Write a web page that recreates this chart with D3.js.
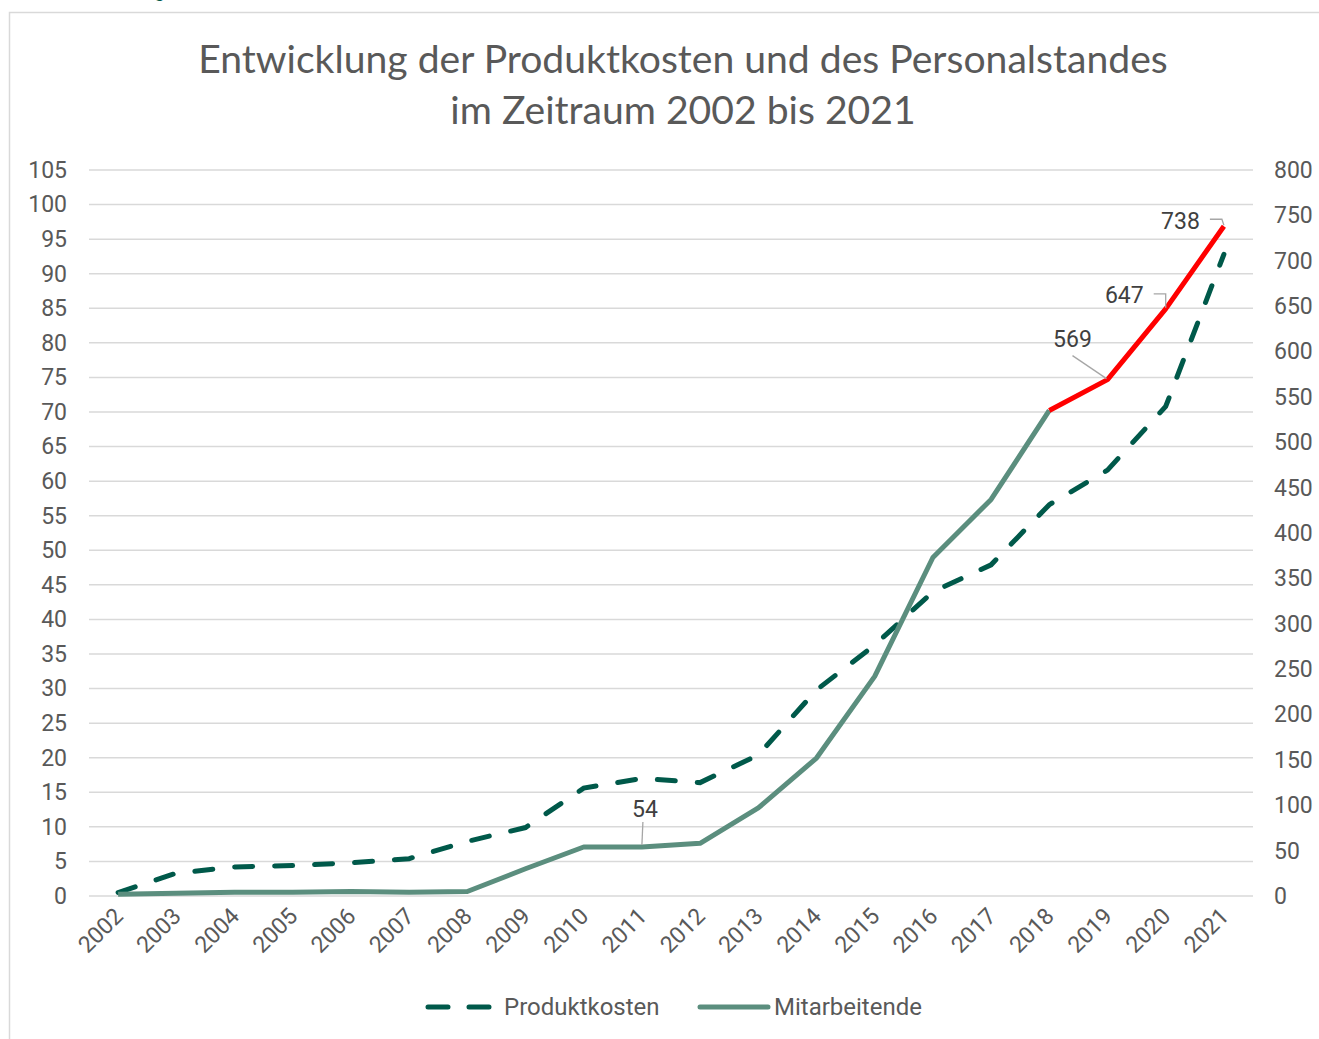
<!DOCTYPE html>
<html>
<head>
<meta charset="utf-8">
<script src="https://cdn.jsdelivr.net/npm/d3@7"></script>
<style>
  body { margin: 0; background: #fff; }
  svg { display: block; }
</style>
</head>
<body>
<svg id="chart" width="1319" height="1039"></svg>
<script>
// data
let years = ["2002","2003","2004","2005","2006","2007","2008","2009","2010","2011",
             "2012","2013","2014","2015","2016","2017","2018","2019","2020","2021"];
let produktkosten = [0.5, 3.3, 4.2, 4.4, 4.8, 5.4, 7.9, 9.9, 15.6, 17.0,
                     16.4, 20.4, 29.8, 36.3, 44.0, 47.9, 56.6, 61.6, 70.8, 92.8];
let mitarbeitende = [2, 3, 4, 4, 5, 4, 5, 30, 54, 54,
                     58, 97, 152, 242, 373, 437, 535, 569, 647, 738];
let leftTicks = d3.range(0, 106, 5);
let rightTicks = d3.range(0, 801, 50);
let labelledYears = ["2011", "2019", "2020", "2021"];
let redFrom = "2018";

let titleLines = ["Entwicklung der Produktkosten und des Personalstandes", "im Zeitraum 2002 bis 2021"];

const darkGreen = "#00594a";
const sage = "#5b8e7e";
const red = "#ff0000";
const textGray = "#595959";

let minx = 89, maxx = 1253, miny = 170, maxy = 896;

let xScale = d3.scalePoint().domain(years).range([minx, maxx]).padding(0.5);
let yLeft = d3.scaleLinear().domain([0, 105]).range([maxy, miny]);
let yRight = d3.scaleLinear().domain([0, 800]).range([maxy, miny]);

let svg = d3.select("#chart");

// clipped text from above the frame (cut off in the original too)
svg.append("text")
  .attr("x", 154).attr("y", -3)
  .attr("font-family", "Roboto").attr("font-size", 20)
  .attr("fill", darkGreen)
  .text("g");

// frame
svg.append("rect")
  .attr("x", 9.5).attr("y", 12.5)
  .attr("width", 1400).attr("height", 1100)
  .attr("fill", "none")
  .attr("stroke", "#d9d9d9")
  .attr("stroke-width", 1.5);

// title
let title = svg.append("g");
let fs = 38;
titleLines.forEach((t, i) => {
  let el = title.append("text")
    .attr("x", 683).attr("y", 73 + i * 51)
    .attr("text-anchor", "middle")
    .attr("font-family", "Lato")
    .attr("font-size", fs)
    .attr("fill", textGray)
    .text(t);
  if (i == 0) {
    let w = el.node().getComputedTextLength();
    fs = 38 * 970 / w;
    el.attr("font-size", fs);
  }
});

// gridlines
svg.append("g")
  .selectAll("line")
  .data(leftTicks)
  .join("line")
  .attr("x1", minx).attr("x2", maxx)
  .attr("y1", d => yLeft(d)).attr("y2", d => yLeft(d))
  .attr("stroke", "#d9d9d9")
  .attr("stroke-width", 1.5);

// left axis
let y_axis = d3.axisLeft(yLeft).tickValues(leftTicks).tickSize(0).tickPadding(0);
let gl = svg.append("g")
  .attr("transform", `translate(67, 0)`)
  .call(y_axis);
gl.select(".domain").remove();
gl.selectAll("text")
  .attr("font-family", "Roboto").attr("font-size", 23)
  .attr("fill", textGray);

// right axis
let y_axis2 = d3.axisRight(yRight).tickValues(rightTicks).tickSize(0).tickPadding(0);
let gr = svg.append("g")
  .attr("transform", `translate(1274, 0)`)
  .call(y_axis2);
gr.select(".domain").remove();
gr.selectAll("text")
  .attr("font-family", "Roboto").attr("font-size", 23)
  .attr("fill", textGray);

// x axis labels
let x_axis = d3.axisBottom(xScale).tickSize(0).tickPadding(0);
let gx = svg.append("g")
  .attr("transform", `translate(0, ${maxy})`)
  .call(x_axis);
gx.select(".domain").remove();
gx.selectAll("text")
  .attr("font-family", "Roboto").attr("font-size", 23)
  .attr("fill", textGray)
  .attr("text-anchor", "end")
  .attr("dy", "0.35em")
  .attr("y", 0)
  .attr("transform", "translate(0, 16) rotate(-45)");

// lines
let kostenLine = d3.line()
  .x((d, i) => xScale(years[i]))
  .y(d => yLeft(d));
svg.append("path")
  .attr("fill", "none")
  .attr("stroke", darkGreen)
  .attr("stroke-width", 5)
  .attr("stroke-linecap", "round")
  .attr("stroke-dasharray", "18 22")
  .attr("d", kostenLine(produktkosten));

let staffPts = years.map((y, i) => ({year: y, v: mitarbeitende[i]}));
let staffLine = d3.line()
  .x(d => xScale(d.year))
  .y(d => yRight(d.v));
let ri = years.indexOf(redFrom);
svg.append("path")
  .attr("fill", "none")
  .attr("stroke", sage)
  .attr("stroke-width", 5)
  .attr("stroke-linejoin", "round")
  .attr("d", staffLine(staffPts.slice(0, ri + 1)));
svg.append("path")
  .attr("fill", "none")
  .attr("stroke", red)
  .attr("stroke-width", 5)
  .attr("stroke-linejoin", "round")
  .attr("d", staffLine(staffPts.slice(ri)));

// data labels with leader lines
let labelLayout = {
  "2011": {tx: 3, ty: -30, anchor: "middle", leader: [[1, -25], [0, -2]]},
  "2019": {tx: -35, ty: -33, anchor: "middle", leader: [[-35, -24], [-1, -1]]},
  "2020": {tx: -22, ty: -6, anchor: "end", leader: [[-12, -15], [0, -15], [0, -1]]},
  "2021": {tx: -24, ty: 3, anchor: "end", leader: [[-14, -7], [-2, -7], [0, -1]]}
};
let lg = svg.append("g");
labelledYears.forEach(y => {
  let i = years.indexOf(y);
  let px = xScale(y), py = yRight(mitarbeitende[i]);
  let L = labelLayout[y];
  lg.append("path")
    .attr("fill", "none")
    .attr("stroke", "#a6a6a6")
    .attr("stroke-width", 1.3)
    .attr("d", d3.line()(L.leader.map(p => [px + p[0], py + p[1]])));
  lg.append("text")
    .attr("x", px + L.tx).attr("y", py + L.ty)
    .attr("text-anchor", L.anchor)
    .attr("font-family", "Roboto").attr("font-size", 23)
    .attr("fill", "#404040")
    .text(mitarbeitende[i]);
});

// legend
let legend = svg.append("g").attr("transform", "translate(0, 1007)");
legend.append("line")
  .attr("x1", 428).attr("x2", 492)
  .attr("stroke", darkGreen).attr("stroke-width", 5)
  .attr("stroke-linecap", "round")
  .attr("stroke-dasharray", "20 21");
legend.append("text")
  .attr("x", 504).attr("dy", "0.35em")
  .attr("font-family", "Roboto").attr("font-size", 24)
  .attr("fill", textGray)
  .text("Produktkosten");
legend.append("line")
  .attr("x1", 700).attr("x2", 768)
  .attr("stroke", sage).attr("stroke-width", 5)
  .attr("stroke-linecap", "round");
legend.append("text")
  .attr("x", 774).attr("dy", "0.35em")
  .attr("font-family", "Roboto").attr("font-size", 24)
  .attr("fill", textGray)
  .text("Mitarbeitende");
</script>
</body>
</html>
